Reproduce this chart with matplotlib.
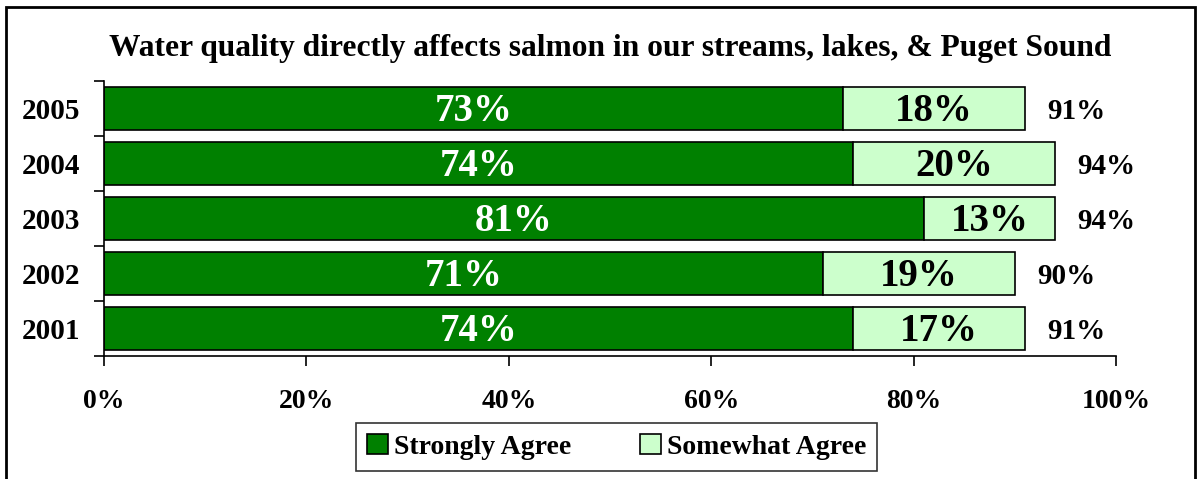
import numpy as np
import matplotlib
matplotlib.use('Agg')
import matplotlib.pyplot as plt
from matplotlib.patches import Rectangle

plt.rcParams['font.family'] = ['Liberation Serif', 'DejaVu Serif']
plt.rcParams['font.weight'] = 'bold'

years = ['2005', '2004', '2003', '2002', '2001']
strongly = [73, 74, 81, 71, 74]
somewhat = [18, 20, 13, 19, 17]
totals = [91, 94, 94, 90, 91]
xticks = [0, 20, 40, 60, 80, 100]

dark = '#008000'
light = '#CCFFCC'

fig = plt.figure(figsize=(12, 4.79), dpi=100)
ax = fig.add_axes([0.0867, 0.2568, 0.8433, 0.5742])

y = np.arange(len(years))[::-1]
b1 = ax.barh(y, strongly, height=0.78, color=dark, edgecolor='black', linewidth=1.2,
             label='Strongly Agree')
b2 = ax.barh(y, somewhat, left=strongly, height=0.78, color=light, edgecolor='black',
             linewidth=1.2, label='Somewhat Agree')

for yi, s, w, t in zip(y, strongly, somewhat, totals):
    ax.text(s / 2, yi - 0.05, f'{s}%', color='white', ha='center', va='center',
            fontsize=28, fontweight='bold')
    ax.text(s + w / 2, yi - 0.05, f'{w}%', color='black', ha='center', va='center',
            fontsize=28, fontweight='bold')
    ax.text(t + 2.2, yi - 0.05, f'{t}%', color='black', ha='left', va='center',
            fontsize=21, fontweight='bold')

ax.set_xlim(0, 100)
ax.set_ylim(-0.5, 4.5)
ax.set_xticks(xticks)
ax.set_xticklabels([f'{v}%' for v in xticks], fontsize=20, fontweight='bold')
ax.set_yticks(y)
ax.set_yticklabels(years, fontsize=21, fontweight='bold')
ax.set_yticks(np.arange(-0.5, 5, 1), minor=True)
ax.tick_params(axis='y', which='major', length=0, pad=17)
ax.tick_params(axis='y', which='minor', length=7, width=1.2, direction='out')
ax.tick_params(axis='x', length=7, width=1.2, direction='out', pad=17)
for side in ['top', 'right']:
    ax.spines[side].set_visible(False)
for side in ['left', 'bottom']:
    ax.spines[side].set_linewidth(1.2)

ax.set_title('Water quality directly affects salmon in our streams, lakes, & Puget Sound',
             fontsize=22.7, fontweight='bold', pad=18)

leg = fig.legend(handles=[b1, b2], loc='center', bbox_to_anchor=(0.514, 0.067), ncol=2,
                 frameon=True, fancybox=False, edgecolor='black', fontsize=20,
                 handlelength=0.75, handleheight=0.75, handletextpad=0.2,
                 columnspacing=2.5, borderpad=0.4, borderaxespad=0)
leg.get_frame().set_linewidth(1.2)

# outer frame around the whole chart
fig.patches.append(Rectangle((6 / 1200, -0.05), 1189 / 1200, 1 - 7 / 479 + 0.05,
                             transform=fig.transFigure, fill=False,
                             edgecolor='black', linewidth=2))

fig.savefig('out.png', dpi=100)
